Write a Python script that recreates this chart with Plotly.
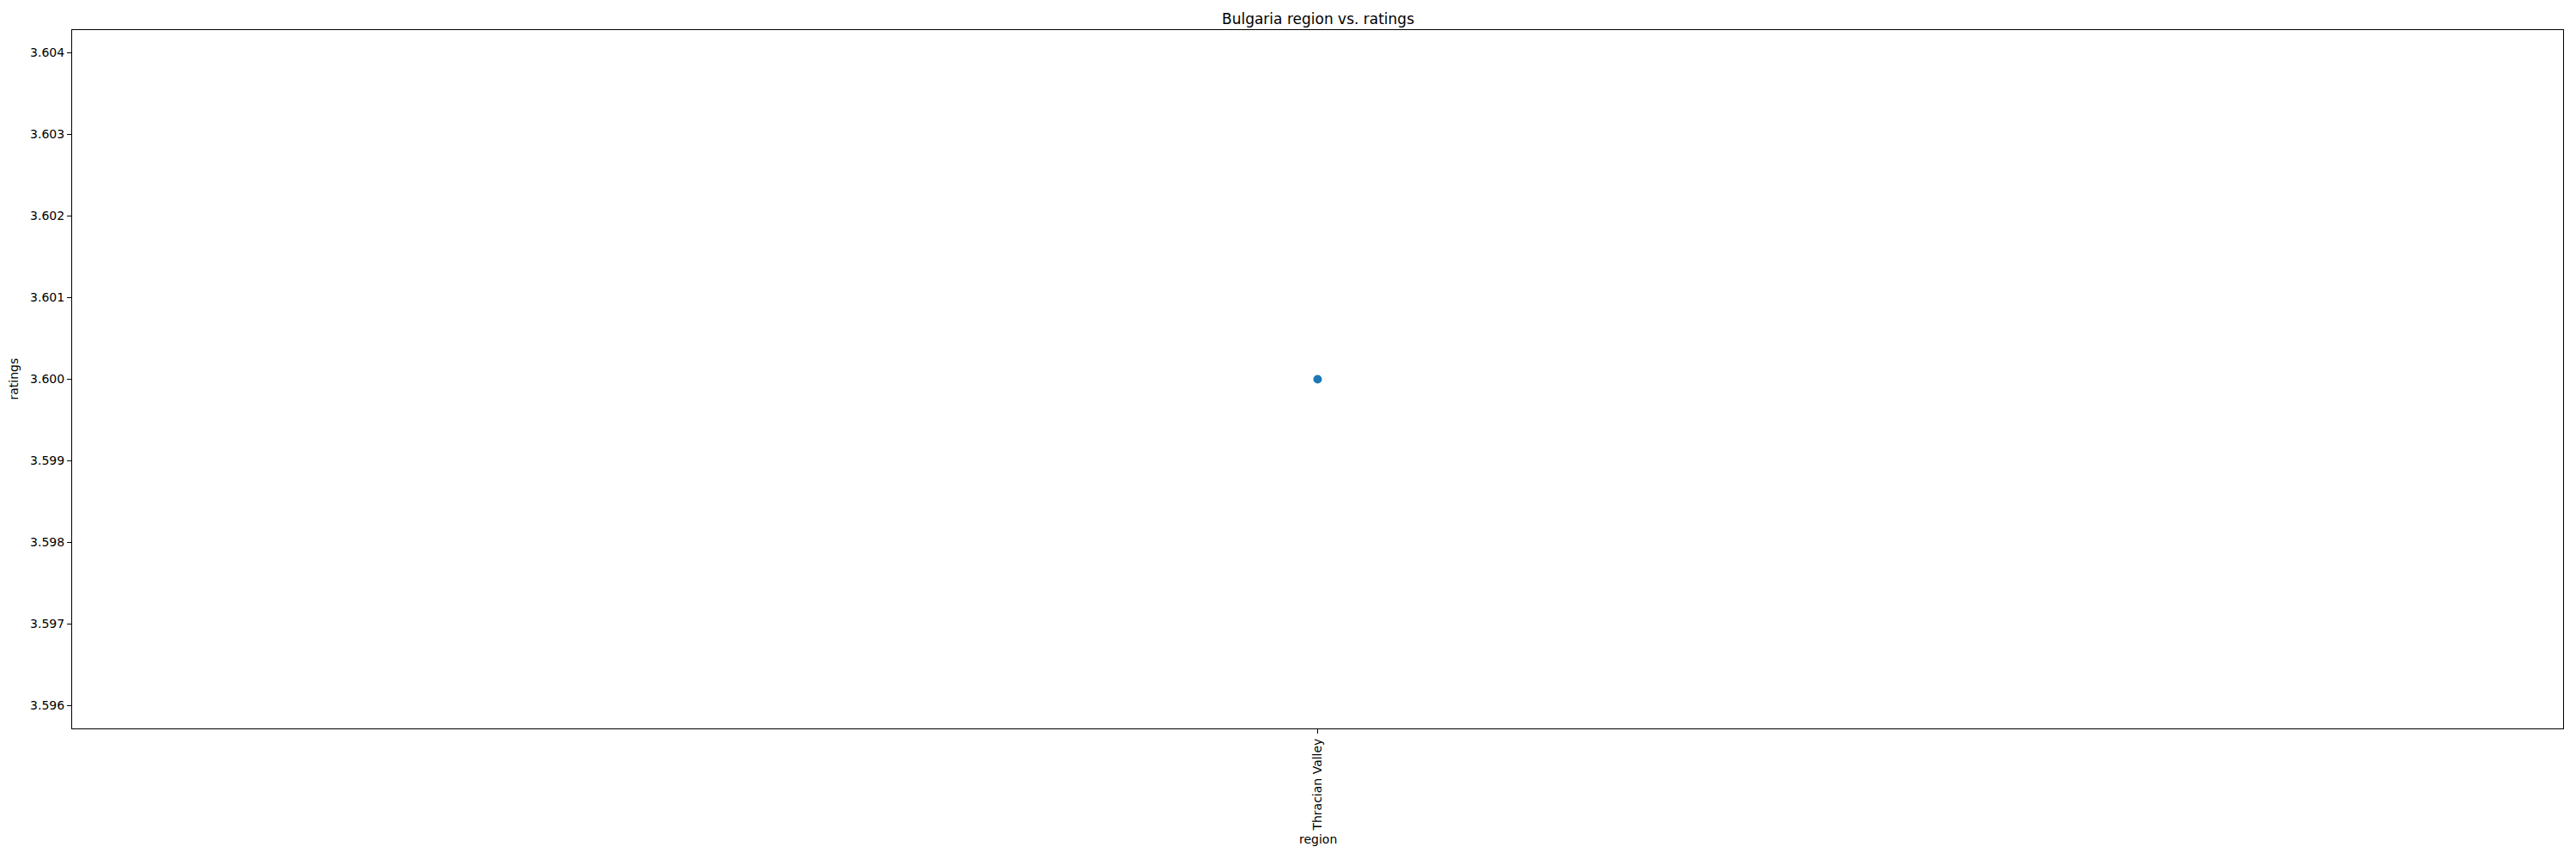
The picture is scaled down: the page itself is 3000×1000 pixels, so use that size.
import plotly.graph_objects as go

regions = ["Thracian Valley"]
ratings = [3.6]
y_ticks = [3.596, 3.597, 3.598, 3.599, 3.600, 3.601, 3.602, 3.603, 3.604]
y_tick_labels = ["3.596", "3.597", "3.598", "3.599", "3.600", "3.601", "3.602", "3.603", "3.604"]

W, H = 3000, 1000
L, R, T, B = 84, 15, 35, 152
plot_h = H - T - B

fig = go.Figure()
fig.add_trace(go.Scatter(
    x=regions, y=ratings, mode="markers",
    marker=dict(color="#1f77b4", size=10, line=dict(width=0)),
    showlegend=False,
))

axis_common = dict(
    showline=True, linecolor="black", linewidth=1, mirror=True,
    ticks="outside", ticklen=5, tickwidth=1, tickcolor="black",
    showgrid=False, zeroline=False,
    tickfont=dict(family="DejaVu Sans", size=14, color="black"),
)

fig.update_layout(
    width=W, height=H,
    margin=dict(l=L, r=R, t=T, b=B),
    paper_bgcolor="white", plot_bgcolor="white",
    font=dict(family="DejaVu Sans", color="black"),
    xaxis=dict(type="category", range=[-1, 1], tickangle=-90, **axis_common),
    yaxis=dict(range=[3.59572, 3.60428], tickvals=y_ticks, ticktext=y_tick_labels, **axis_common),
    annotations=[
        dict(text="Bulgaria region vs. ratings", xref="paper", yref="paper",
             x=0.5, y=1, yshift=13, xanchor="center", yanchor="middle",
             showarrow=False, font=dict(size=17, family="DejaVu Sans", color="black")),
        dict(text="region", xref="paper", yref="paper",
             x=0.5, y=0, yshift=-129, xanchor="center", yanchor="middle",
             showarrow=False, font=dict(size=14, family="DejaVu Sans", color="black")),
        dict(text="ratings", xref="paper", yref="paper",
             x=0, y=0.5, xshift=-69, xanchor="center", yanchor="middle", textangle=-90,
             showarrow=False, font=dict(size=14, family="DejaVu Sans", color="black")),
    ],
)

fig.write_html("out.html")
